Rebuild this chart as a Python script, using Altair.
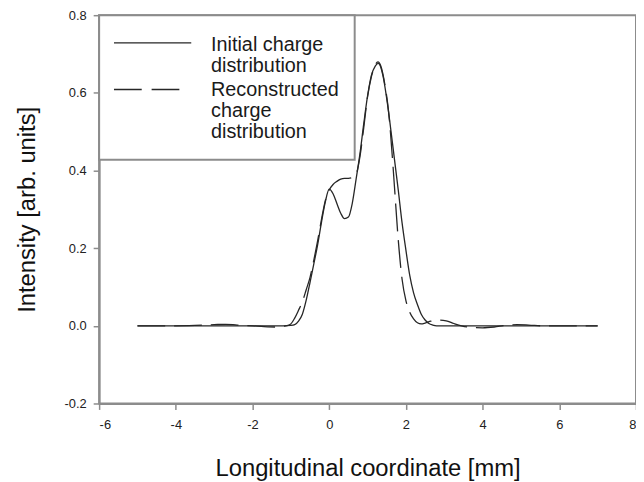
import altair as alt
import pandas as pd

# Initial charge distribution (solid)
x_init = [-5, -4, -3, -2, -1.5, -1.2, -1.0, -0.9, -0.8, -0.7,
          -0.6, -0.5, -0.4, -0.3, -0.2, -0.1, 0.0, 0.1, 0.2, 0.3,
          0.4, 0.5, 0.6, 0.7, 0.8, 0.9, 1.0, 1.1, 1.2, 1.28,
          1.4, 1.5, 1.6, 1.7, 1.8, 1.9, 2.0, 2.1, 2.2, 2.3,
          2.4, 2.5, 2.6, 2.7, 2.8, 3.2, 4, 5, 6, 7]
y_init = [0, 0, 0, 0, 0, 0, 0.001, 0.003, 0.012, 0.03,
          0.066, 0.112, 0.16, 0.21, 0.268, 0.32, 0.352, 0.34, 0.315, 0.29,
          0.276, 0.28, 0.315, 0.377, 0.442, 0.52, 0.592, 0.645, 0.669, 0.676,
          0.645, 0.585, 0.51, 0.43, 0.35, 0.265, 0.195, 0.13, 0.085, 0.055,
          0.03, 0.015, 0.006, 0.002, 0, 0, 0, 0, 0, 0]

# Reconstructed charge distribution (dashed)
x_rec = [-5, -4.5, -4, -3.5, -3, -2.7, -2.4, -2, -1.7, -1.4,
         -1.2, -1.05, -1.0, -0.9, -0.8, -0.7, -0.6, -0.5, -0.4, -0.3,
         -0.2, -0.1, 0.0, 0.1, 0.2, 0.3, 0.4, 0.5, 0.6, 0.7,
         0.8, 0.9, 1.0, 1.1, 1.2, 1.27, 1.35, 1.45, 1.55, 1.65,
         1.7, 1.8, 1.9, 2.0, 2.1, 2.2, 2.3, 2.4, 2.5, 2.65,
         2.85, 3.05, 3.25, 3.45, 3.7, 4.0, 4.3, 4.6, 4.9, 5.2,
         5.6, 6.0, 6.5, 7]
y_rec = [0, 0, 0, 0.001, 0.003, 0.004, 0.002, 0, -0.002, -0.003,
         -0.001, 0.002, 0.005, 0.02, 0.04, 0.062, 0.093, 0.125, 0.17, 0.22,
         0.275, 0.323, 0.35, 0.364, 0.372, 0.378, 0.38, 0.38, 0.382, 0.39,
         0.435, 0.51, 0.59, 0.642, 0.672, 0.68, 0.668, 0.622, 0.55, 0.43,
         0.36, 0.222, 0.12, 0.065, 0.035, 0.018, 0.008, 0.005, 0.007, 0.012,
         0.015, 0.013, 0.006, 0.0, -0.004, -0.005, -0.003, 0.001, 0.003, 0.002,
         0, 0, 0, 0]

x_ticks = [-6, -4, -2, 0, 2, 4, 6, 8]
y_ticks = [-0.2, 0.0, 0.2, 0.4, 0.6, 0.8]
legend_lines_1 = ["Initial charge", "distribution"]
legend_lines_2 = ["Reconstructed", "charge", "distribution"]

FONT = "Liberation Sans"
GREY = "#8c8c8c"
CURVE = "#262626"

df_init = pd.DataFrame({"x": x_init, "y": y_init})
df_rec = pd.DataFrame({"x": x_rec, "y": y_rec})

xs = alt.Scale(domain=[-6, 8], nice=False, zero=False)
ys = alt.Scale(domain=[-0.2, 0.8], nice=False, zero=False)

xaxis = alt.Axis(values=x_ticks, title="Longitudinal coordinate [mm]",
                 labelExpr="datum.value + ''", grid=False)
yaxis = alt.Axis(values=y_ticks, title="Intensity [arb. units]",
                 labelExpr="replace(format(datum.value, '.1f'), '\u2212', '-')", grid=False)

solid = alt.Chart(df_init).mark_line(
    color=CURVE, strokeWidth=1.3, interpolate="monotone"
).encode(
    x=alt.X("x:Q", scale=xs, axis=xaxis),
    y=alt.Y("y:Q", scale=ys, axis=yaxis),
)

dashed = alt.Chart(df_rec).mark_line(
    color=CURVE, strokeWidth=1.3, strokeDash=[28, 9], interpolate="monotone"
).encode(
    x=alt.X("x:Q", scale=xs),
    y=alt.Y("y:Q", scale=ys),
)

one = alt.Data(values=[{"k": 1}])

legend_box = alt.Chart(one).mark_rect(
    fill="white", stroke=GREY, strokeWidth=2
).encode(x=alt.value(0), x2=alt.value(258), y=alt.value(0), y2=alt.value(146))

leg_solid = alt.Chart(one).mark_rule(color=CURVE, strokeWidth=1.3).encode(
    x=alt.value(15), x2=alt.value(93), y=alt.value(28))
leg_dash = alt.Chart(one).mark_rule(color=CURVE, strokeWidth=1.3, strokeDash=[28, 10]).encode(
    x=alt.value(15), x2=alt.value(82), y=alt.value(75))

text_layers = []
for txt, yb in zip(legend_lines_1 + legend_lines_2, [36.5, 57.5, 82, 103, 124]):
    text_layers.append(
        alt.Chart(one).mark_text(
            text=txt, align="left", baseline="alphabetic", font=FONT,
            fontSize=20, color="#1a1a1a"
        ).encode(x=alt.value(113), y=alt.value(yb))
    )

chart = alt.layer(solid, dashed, legend_box, leg_solid, leg_dash, *text_layers).properties(
    width=542, height=392,
    autosize=alt.AutoSizeParams(type="none"),
    padding={"left": 92, "top": 5, "right": 0, "bottom": 77},
).configure_view(
    stroke=GREY, strokeWidth=2
).configure_axis(
    domainColor=GREY, domainWidth=2, tickColor=GREY, tickWidth=1.5, tickSize=6,
    labelFont=FONT, labelFontSize=13, labelColor="#222",
    titleFont=FONT, titleFontSize=24, titleFontWeight="normal", titleColor="#111",
).configure_axisX(
    labelPadding=9, titlePadding=26,
).configure_axisY(
    labelPadding=7, titlePadding=25,
)

chart.save("out.html", embed_options={"renderer": "svg", "actions": False})
